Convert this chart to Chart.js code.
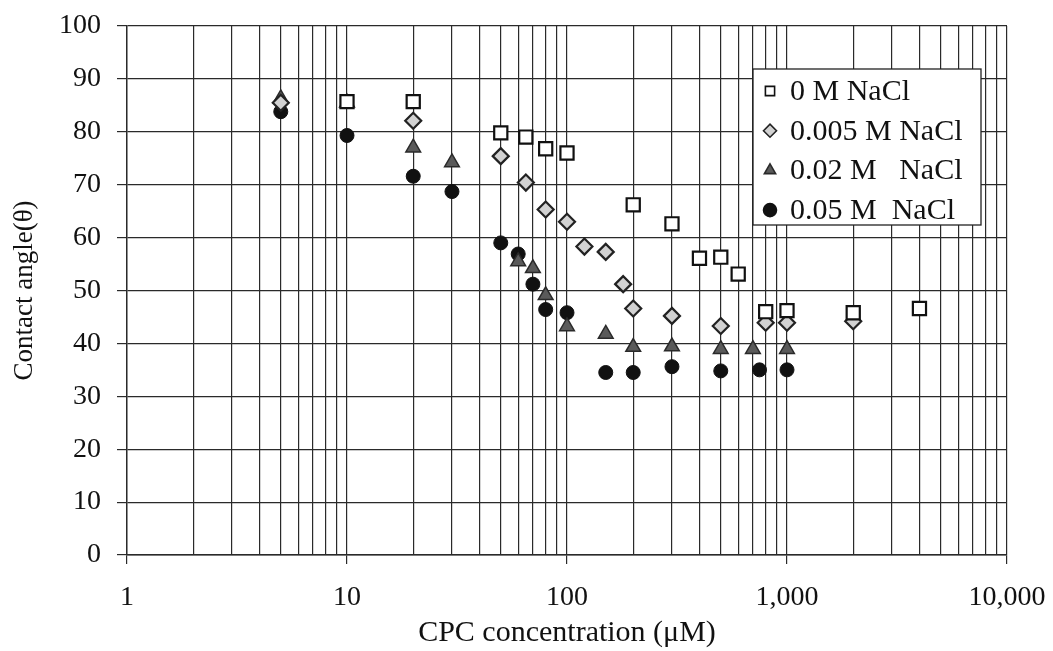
<!DOCTYPE html>
<html>
<head>
<meta charset="utf-8">
<script src="https://cdn.jsdelivr.net/npm/chart.js@4.4.1/dist/chart.umd.min.js"></script>
<style>
  html, body { margin: 0; padding: 0; background: #ffffff; }
  #wrap { width: 1053px; height: 651px; position: relative; }
</style>
</head>
<body>
<div id="wrap"><canvas id="c" width="1053" height="651"></canvas></div>
<script>
// ---- data ----
const seriesNames = ['0 M NaCl', '0.005 M NaCl', '0.02 M   NaCl', '0.05 M  NaCl'];

const conc0 = [10, 20, 50, 65, 80, 100, 200, 300, 400, 500, 600, 800, 1000, 2000, 4000];
const angle0 = [85.7, 85.7, 79.8, 79.0, 76.8, 76.0, 66.2, 62.6, 56.1, 56.3, 53.1, 46.0, 46.2, 45.8, 46.6];

const conc1 = [5, 20, 50, 65, 80, 100, 120, 150, 180, 200, 300, 500, 800, 1000, 2000];
const angle1 = [85.5, 82.1, 75.4, 70.4, 65.3, 63.0, 58.3, 57.3, 51.2, 46.6, 45.2, 43.3, 43.9, 43.9, 44.2];

const conc2 = [5, 10, 20, 30, 60, 70, 80, 100, 150, 200, 300, 500, 700, 1000];
const angle2 = [86.3, 85.5, 77.0, 74.2, 55.5, 54.2, 49.1, 43.2, 41.8, 39.3, 39.4, 38.9, 38.9, 38.9];

const conc3 = [5, 10, 20, 30, 50, 60, 70, 80, 100, 150, 200, 300, 500, 750, 1000];
const angle3 = [83.8, 79.3, 71.6, 68.7, 59.0, 56.9, 51.2, 46.4, 45.8, 34.5, 34.5, 35.6, 34.8, 35.0, 35.0];

const xTickValues = [1, 10, 100, 1000, 10000];
const xTickLabels = ['1', '10', '100', '1,000', '10,000'];
const yTickValues = [0, 10, 20, 30, 40, 50, 60, 70, 80, 90, 100];

const xTitle = 'CPC concentration (\u03BCM)';
const yTitle = 'Contact angle(\u03B8)';

// ---- styles ----
const styles = [
  { pointStyle: 'rect',     radius: 9.3, bg: '#ffffff', border: '#111111', bw: 2.2 },
  { pointStyle: 'rectRot',  radius: 8,   bg: '#d2d2d2', border: '#222222', bw: 2.2 },
  { pointStyle: 'triangle', radius: 8.5, bg: '#5a5a5a', border: '#2a2a2a', bw: 1.5 },
  { pointStyle: 'circle',   radius: 7,   bg: '#111111', border: '#111111', bw: 1 }
];
const concs = [conc0, conc1, conc2, conc3];
const angles = [angle0, angle1, angle2, angle3];

const datasets = seriesNames.map((name, i) => ({
  label: name,
  data: concs[i].map((x, j) => ({ x: x, y: angles[i][j] })),
  pointStyle: styles[i].pointStyle,
  pointRadius: styles[i].radius,
  pointHoverRadius: styles[i].radius,
  backgroundColor: styles[i].bg,
  borderColor: styles[i].border,
  pointBorderWidth: styles[i].bw,
  showLine: false
}));

// grid values for the log axis: 1..9 in every decade
const gridValues = [];
for (let d = 0; d < xTickValues.length - 1; d++) {
  for (let m = 1; m <= 9; m++) gridValues.push(m * xTickValues[d]);
}
gridValues.push(xTickValues[xTickValues.length - 1]);

const FONT = '"Liberation Serif", "Times New Roman", serif';
const LINE = '#2a2a2a';

const legendBox = {
  id: 'legendBox',
  afterDraw(chart) {
    const ctx = chart.ctx;
    const ca = chart.chartArea;
    const x0 = ca.left + 626, y0 = ca.top + 43, w = 228, h = 156;
    ctx.save();
    ctx.fillStyle = '#ffffff';
    ctx.fillRect(x0, y0, w, h);
    ctx.strokeStyle = '#222';
    ctx.lineWidth = 1.3;
    ctx.strokeRect(x0, y0, w, h);
    ctx.font = '30px ' + FONT;
    ctx.textBaseline = 'middle';
    ctx.textAlign = 'left';
    chart.data.datasets.forEach((ds, i) => {
      const cy = y0 + 22 + i * 39.7;
      ctx.fillStyle = ds.backgroundColor;
      ctx.strokeStyle = ds.borderColor;
      ctx.lineWidth = 1.6;
      Chart.helpers.drawPoint(ctx, { pointStyle: ds.pointStyle, rotation: 0, borderWidth: 1.6, radius: 6.5 }, x0 + 17, cy);
      ctx.fillStyle = '#111';
      ctx.fillText(ds.label, x0 + 37, cy + 1);
    });
    ctx.restore();
  }
};

new Chart(document.getElementById('c'), {
  type: 'scatter',
  data: { datasets: datasets },
  options: {
    responsive: false,
    animation: false,
    devicePixelRatio: 1,
    layout: { padding: { top: 26, right: 46, bottom: 0, left: 0 } },
    plugins: {
      legend: { display: false },
      tooltip: { enabled: false }
    },
    scales: {
      x: {
        type: 'logarithmic',
        position: 'bottom',
        min: 1,
        max: 10000,
        afterBuildTicks(scale) {
          scale.ticks = gridValues.map(v => ({ value: v }));
        },
        afterFit(scale) {
          scale.height = 96;
          scale.paddingLeft = 0;
          scale.paddingRight = 0;
        },
        ticks: {
          autoSkip: false,
          maxRotation: 0,
          padding: 17,
          color: '#111',
          font: { family: FONT, size: 28 },
          callback(value) {
            const k = xTickValues.indexOf(value);
            return k >= 0 ? xTickLabels[k] : '';
          }
        },
        grid: {
          color: LINE,
          lineWidth: 1.2,
          drawTicks: true,
          tickLength: 9,
          tickColor: c => (c.tick && xTickValues.indexOf(c.tick.value) >= 0) ? LINE : 'rgba(0,0,0,0)'
        },
        border: { display: true, color: LINE, width: 1.4 },
        title: {
          display: true,
          text: xTitle,
          color: '#111',
          font: { family: FONT, size: 30 },
          padding: { top: 0, bottom: 0 }
        }
      },
      y: {
        min: 0,
        max: 100,
        afterBuildTicks(scale) {
          scale.ticks = yTickValues.map(v => ({ value: v }));
        },
        afterFit(scale) {
          scale.width = 127;
          scale.paddingTop = 0;
          scale.paddingBottom = 0;
        },
        ticks: {
          stepSize: 10,
          padding: 16,
          color: '#111',
          font: { family: FONT, size: 28 }
        },
        grid: {
          color: LINE,
          lineWidth: 1.2,
          drawTicks: true,
          tickLength: 10,
          tickColor: LINE
        },
        border: { display: true, color: LINE, width: 1.4 },
        title: {
          display: true,
          text: yTitle,
          color: '#111',
          font: { family: FONT, size: 27 },
          padding: { top: 9, bottom: 0 }
        }
      }
    }
  },
  plugins: [legendBox]
});
</script>
</body>
</html>
